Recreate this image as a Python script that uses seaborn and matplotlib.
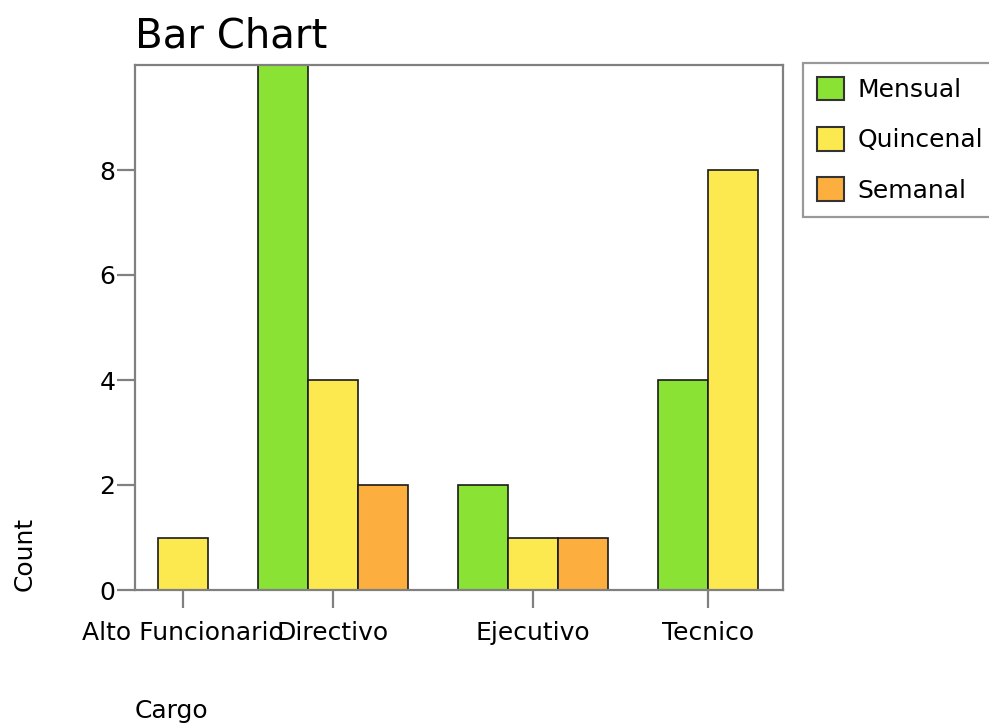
import numpy as np
import pandas as pd
import matplotlib
matplotlib.use("Agg")
import matplotlib.pyplot as plt
import seaborn as sns

# datos
cargos = ['Alto Funcionario', 'Directivo', 'Ejecutivo', 'Tecnico']
pagos = ['Mensual', 'Quincenal', 'Semanal']
mensual = [0, 10, 2, 4]
quincenal = [1, 4, 1, 8]
semanal = [0, 2, 1, 0]
colores = {'Mensual': '#8ae234', 'Quincenal': '#fce94f', 'Semanal': '#fcaf3e'}

conteos = {'Mensual': mensual, 'Quincenal': quincenal, 'Semanal': semanal}

# estilo SPSS: solo se dibujan las barras con conteo > 0, grupos separados por un hueco
rows = []
centros = []
slot = 0
for i, cargo in enumerate(cargos):
    presentes = [p for p in pagos if conteos[p][i] > 0]
    pos = list(range(slot, slot + len(presentes)))
    for p, x in zip(presentes, pos):
        rows.append({'pos': x, 'Count': conteos[p][i], 'Pago': p, 'Cargo': cargo})
    centros.append(np.mean(pos))
    slot += len(presentes) + 1
df = pd.DataFrame(rows)

sns.set_theme(style='white')
plt.rcParams['font.family'] = ['DejaVu Sans']
plt.rcParams['text.color'] = 'black'

fig = plt.figure(figsize=(9.89, 7.25), dpi=100)
ax = fig.add_axes([135/989, 1 - 590/725, (783 - 135)/989, (590 - 65)/725])

sns.barplot(data=df, x='pos', y='Count', hue='Pago', hue_order=pagos,
            palette=colores, saturation=1, native_scale=True, dodge=False, width=1,
            errorbar=None, edgecolor='#1a1a1a', linewidth=1.2, ax=ax)

ax.set_xlim(centros[0] - 0.96, centros[-1] + 1.5)
ax.set_ylim(0, 10)
ax.set_yticks([0, 2, 4, 6, 8])
ax.set_xticks(centros)
ax.set_xticklabels(cargos)
ax.set_xlabel('')
ax.set_ylabel('')

for s in ax.spines.values():
    s.set_color('#808080')
    s.set_linewidth(1.6)
ax.tick_params(axis='both', direction='out', length=13, width=1.6, color='#808080',
               labelsize=18, colors='#808080', labelcolor='black')
ax.tick_params(axis='y', pad=1)
ax.tick_params(axis='x', pad=9)
ax.tick_params(bottom=True, left=True)

fig.text(135/989, 1 - 36/725, 'Bar Chart', fontsize=29, ha='left', va='center')
fig.text(25/989, 1 - 591/725, 'Count', fontsize=18, rotation=90, ha='center', va='bottom')
fig.text(135/989, 1 - 711/725, 'Cargo', fontsize=18, ha='left', va='center')

handles, labels = ax.get_legend_handles_labels()
ax.get_legend().remove()
leg = fig.legend(handles, labels, loc='upper left', bbox_to_anchor=(803/989, 1 - 63/725),
                 bbox_transform=fig.transFigure, fontsize=18, frameon=True, fancybox=False,
                 handlelength=1.08, handleheight=1.08, handletextpad=0.55,
                 labelspacing=1.0, borderpad=0.55, borderaxespad=0)
leg.get_frame().set_edgecolor('#808080')
leg.get_frame().set_linewidth(1.6)
for h in leg.legend_handles:
    h.set_edgecolor('#333333')
    h.set_linewidth(1.5)
for t in leg.get_texts():
    t.set_color('black')

fig.savefig('out.png', dpi=100)
